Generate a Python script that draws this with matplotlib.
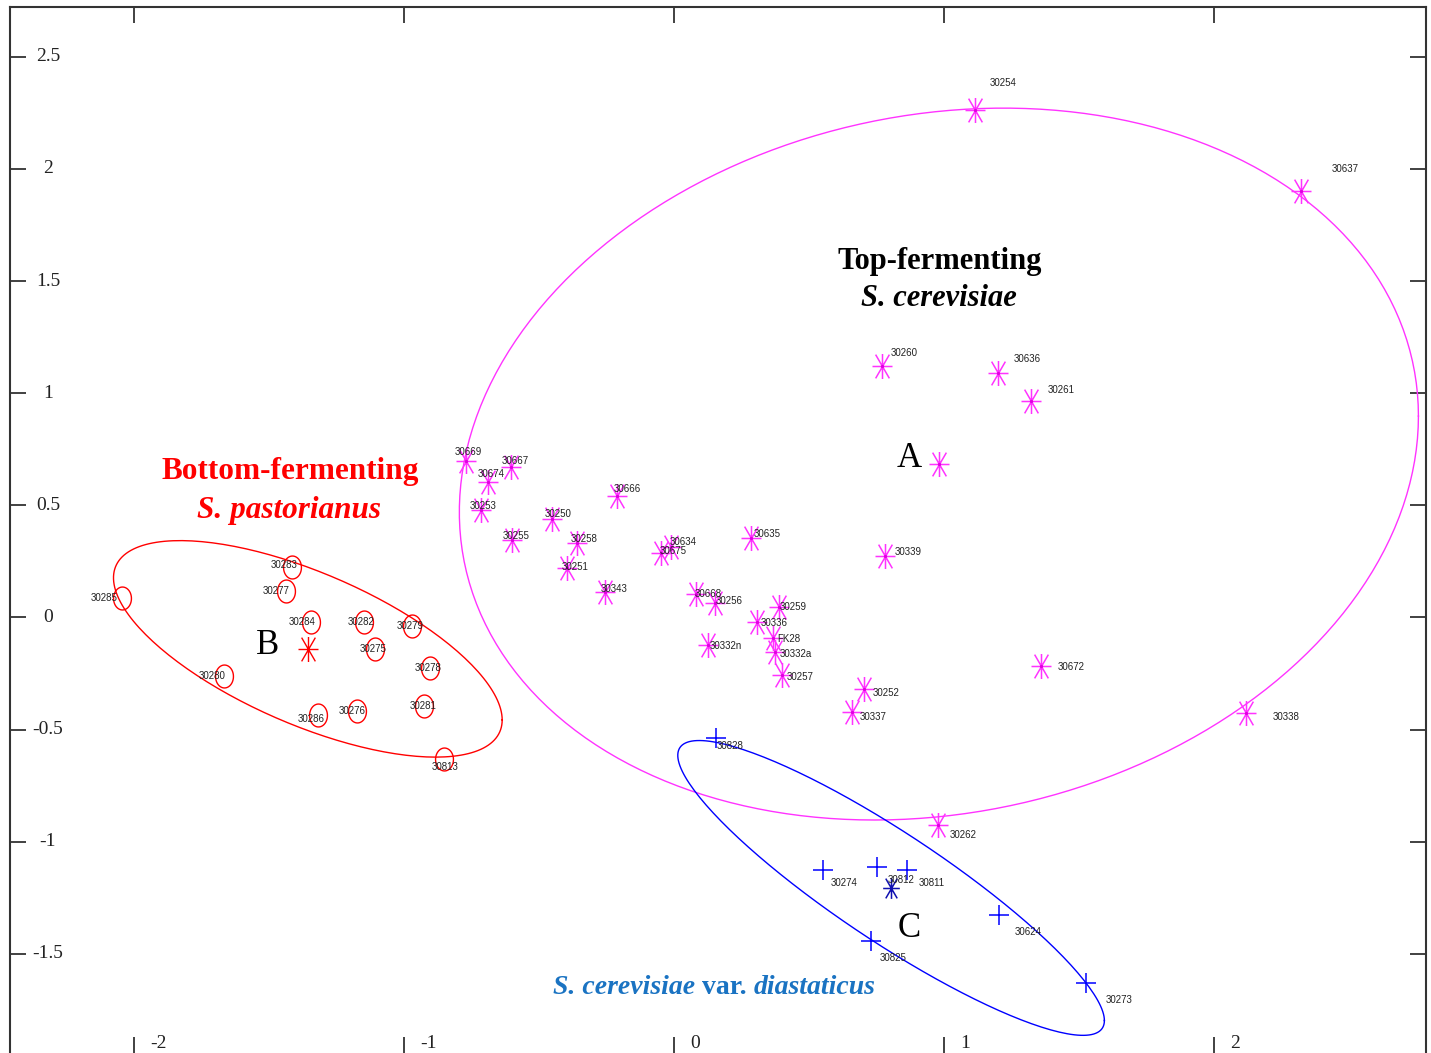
import numpy as np
import matplotlib.pyplot as plt
from matplotlib.path import Path
from matplotlib.transforms import blended_transform_factory

# --- scores on the first two components -------------------------------------
# top-fermenting S. cerevisiae (group A)
top_names = ["30254", "30637", "30260", "30636", "30261", "30339", "30672",
             "30252", "30337", "30338", "30262", "30669", "30667", "30674",
             "30253", "30255", "30250", "30258", "30251", "30343", "30666",
             "30634", "30675", "30635", "30668", "30256", "30259", "30336",
             "FK28", "30332a", "30257", "30332n"]
top_x = [1.115, 2.322, 0.770, 1.200, 1.322, 0.781, 1.359,
         0.704, 0.659, 2.119, 0.978, -0.770, -0.604, -0.689,
         -0.715, -0.600, -0.452, -0.359, -0.396, -0.256, -0.211,
         -0.011, -0.048, 0.285, 0.081, 0.152, 0.389, 0.307,
         0.367, 0.374, 0.400, 0.126]
top_y = [2.263, 1.902, 1.123, 1.092, 0.963, 0.274, -0.216,
         -0.318, -0.421, -0.426, -0.925, 0.698, 0.671, 0.604,
         0.479, 0.345, 0.439, 0.332, 0.221, 0.114, 0.542,
         0.314, 0.287, 0.355, 0.105, 0.065, 0.047, -0.020,
         -0.091, -0.154, -0.256, -0.123]

# bottom-fermenting S. pastorianus (group B)
bot_names = ["30283", "30277", "30285", "30284", "30282", "30279", "30275",
             "30278", "30281", "30276", "30286", "30813", "30280"]
bot_x = [-1.415, -1.437, -2.044, -1.344, -1.148, -0.970, -1.107,
         -0.904, -0.926, -1.174, -1.319, -0.852, -1.667]
bot_y = [0.225, 0.118, 0.087, -0.020, -0.020, -0.038, -0.141,
         -0.225, -0.395, -0.417, -0.435, -0.631, -0.261]

# S. cerevisiae var. diastaticus (group C)
dia_names = ["30828", "30274", "30812", "30811", "30624", "30825", "30273"]
dia_x = [0.156, 0.552, 0.752, 0.863, 1.204, 0.730, 1.526]
dia_y = [-0.537, -1.126, -1.112, -1.126, -1.327, -1.443, -1.630]

# group centroids and the (sxx, syy, sxy) shape of each confidence ellipse
centroid_a = (0.981, 0.684)
centroid_b = (-1.356, -0.140)
centroid_c = (0.804, -1.206)
shape_a = (3.154, 2.519, 0.38)
shape_b = (0.518, 0.233, -0.228)
shape_c = (0.624, 0.432, -0.467)

x_ticks = [-2, -1, 0, 1, 2]
y_ticks = [-1.5, -1, -0.5, 0, 0.5, 1, 1.5, 2, 2.5]

# label placement, pixel offsets from the marker
top_off = [(15, 27), (31, 22), (9, 13), (16, 14), (17, 11), (10, 4), (17, -1),
           (9, -4), (8, -5), (27, -4), (12, -10), (-11, 9), (-9, 6), (-10, 8),
           (-11, 4), (-9, 4), (-7, 5), (-6, 4), (-5, 1), (-4, 3), (-3, 7),
           (-1, 5), (-1, 2), (3, 4), (-1, 0), (1, 2), (1, 0), (4, -1),
           (4, -1), (5, -2), (5, -2), (2, -1)]
bot_off = [(-8, 2), (-10, 0), (-18, 0), (-9, 0), (-3, 0), (-2, 0), (-2, 0),
           (-2, 0), (-1, 0), (-5, 0), (-7, -4), (1, -8), (-12, 0)]
dia_off = [(1, -8), (8, -13), (11, -13), (12, -13), (16, -17), (9, -17), (20, -17)]

MAGENTA = "#ff33ff"
RED = "#ff0000"
BLUE = "#0000ff"
TEXT_BLUE = "#1a73c2"
SERIF = "Liberation Serif"
SMALL = ["Liberation Sans Narrow", "Liberation Sans"]

# asterisk marker: horizontal, vertical and two steep diagonals
star = Path([(-0.8, 0), (0.8, 0), (0, -1), (0, 1),
             (-0.55, -0.95), (0.55, 0.95), (-0.55, 0.95), (0.55, -0.95)],
            [Path.MOVETO, Path.LINETO] * 4)
t = np.linspace(0, 2 * np.pi, 80)
oval = Path(np.column_stack([0.78 * np.cos(t), np.sin(t)]))


def ellipse_outline(ax, centre, shape, color):
    sxx, syy, sxy = shape
    L = np.linalg.cholesky(np.array([[sxx, sxy], [sxy, syy]]))
    tt = np.linspace(0, 2 * np.pi, 200)
    pts = L @ np.vstack([np.cos(tt), np.sin(tt)])
    ax.plot(centre[0] + pts[0], centre[1] + pts[1], color=color, lw=1.0)


def put_labels(ax, names, xs, ys, offsets, ha):
    for n, x, y, (dx, dy) in zip(names, xs, ys, offsets):
        ax.annotate(n, (x, y), xytext=(dx, dy), textcoords="offset pixels",
                    ha=ha, va="center", fontsize=7, family=SMALL,
                    color="#222222")


fig = plt.figure(figsize=(14.31, 10.53), dpi=100)
ax = fig.add_axes([10 / 1431, 0, 1416 / 1431, 1046 / 1053])
ax.set_xlim(-2.459, 2.785)
ax.set_ylim(-1.942, 2.722)

ellipse_outline(ax, centroid_a, shape_a, MAGENTA)
ellipse_outline(ax, centroid_b, shape_b, RED)
ellipse_outline(ax, centroid_c, shape_c, BLUE)

# group A
ax.plot(top_x, top_y, ls="none", marker=star, ms=18, mew=1.1,
        color=MAGENTA)
ax.plot(top_x, top_y, ls="none", marker="o", ms=2.4, mew=0,
        color="#e000e0")
ax.plot(*centroid_a, marker=star, ms=18, mew=1.1, color=MAGENTA)
ax.plot(*centroid_a, marker="o", ms=2.4, mew=0, color="#e000e0")
put_labels(ax, top_names, top_x, top_y, top_off, "left")

# group B
ax.plot(bot_x, bot_y, ls="none", marker=oval, ms=16.5, mew=1.0,
        mfc="none", mec=RED)
ax.plot(*centroid_b, marker=star, ms=18, mew=1.0, color=RED)
ax.plot(*centroid_b, marker="o", ms=2.0, mew=0, color=RED)
put_labels(ax, bot_names, bot_x, bot_y, bot_off, "center")

# group C
ax.plot(dia_x, dia_y, ls="none", marker="+", ms=14, mew=1.1, color=BLUE)
ax.plot(*centroid_c, marker=star, ms=15, mew=1.1, color="#1010b0")
put_labels(ax, dia_names, dia_x, dia_y, dia_off, "left")

# group letters
for letter, (x, y) in zip("ABC", [(0.870, 0.707), (-1.504, -0.123),
                                 (0.870, -1.385)]):
    ax.text(x, y, letter, ha="center", va="center", fontsize=25,
            family=SERIF, color="black")

ax.text(0.985, 1.589, "Top-fermenting", ha="center", va="center",
        fontsize=22, fontweight="bold", family=SERIF, color="black")
ax.text(0.981, 1.424, "S. cerevisiae", ha="center", va="center",
        fontsize=22, fontweight="bold", style="italic", family=SERIF,
        color="black")
ax.text(-1.422, 0.653, "Bottom-fermenting", ha="center", va="center",
        fontsize=22.5, fontweight="bold", family=SERIF, color=RED)
ax.text(-1.426, 0.479, "S. pastorianus", ha="center", va="center",
        fontsize=22.5, fontweight="bold", style="italic", family=SERIF,
        color=RED)

t1 = ax.text(-0.448, -1.652, "S. cerevisiae", ha="left", va="center",
             fontsize=20, fontweight="bold", style="italic", family=SERIF,
             color=TEXT_BLUE)
t2 = ax.annotate("var.", xy=(1, 0), xycoords=t1, xytext=(7, 0),
                 textcoords="offset pixels", ha="left", va="bottom",
                 fontsize=20, fontweight="bold", family=SERIF,
                 color=TEXT_BLUE)
ax.annotate("diastaticus", xy=(1, 0), xycoords=t2, xytext=(7, 0),
            textcoords="offset pixels", ha="left", va="bottom",
            fontsize=20, fontweight="bold", style="italic", family=SERIF,
            color=TEXT_BLUE)

# frame and inward ticks, labels sit inside the plot area
for side in ["left", "right", "top"]:
    ax.spines[side].set_linewidth(1.5)
    ax.spines[side].set_color("#333333")
ax.spines["bottom"].set_visible(False)
ax.set_xticks(x_ticks)
ax.set_yticks(y_ticks)
ax.tick_params(direction="in", length=11.5, width=1.3, color="#333333",
               top=True, right=True, labelbottom=False, labelleft=False)

xb = blended_transform_factory(ax.transData, ax.transAxes)
for v in x_ticks:
    ax.annotate(f"{v:g}", xy=(v, 0), xycoords=xb, xytext=(16, 10),
                textcoords="offset pixels", ha="left", va="center",
                fontsize=14, family=SERIF, color="#222222")
yb = blended_transform_factory(ax.transAxes, ax.transData)
for v in y_ticks:
    ax.annotate(f"{v:g}", xy=(0, v), xycoords=yb, xytext=(38, 0),
                textcoords="offset pixels", ha="center", va="center",
                fontsize=14, family=SERIF, color="#222222")

fig.savefig("out.png", dpi=100)
